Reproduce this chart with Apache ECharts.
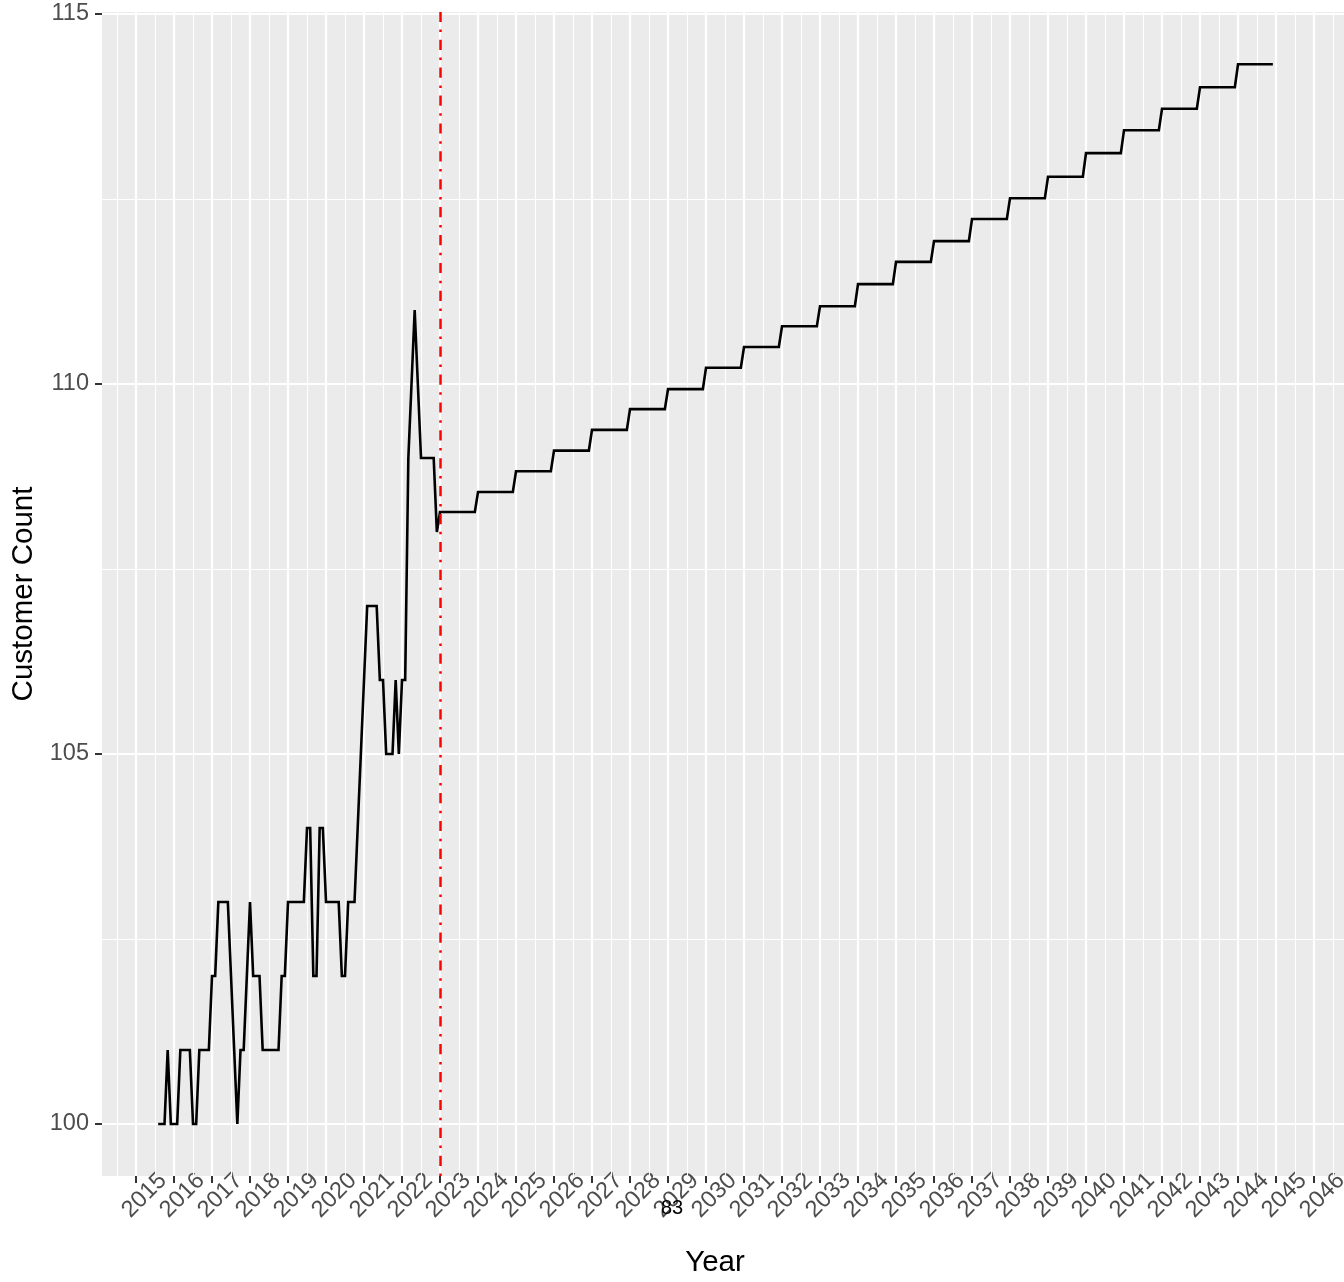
<!DOCTYPE html>
<html><head><meta charset="utf-8">
<script src="https://cdn.jsdelivr.net/npm/echarts@6/dist/echarts.min.js"></script>
<style>html,body{margin:0;padding:0;background:#fff}#c{width:1344px;height:1282px}</style>
</head><body><div id="c"></div>
<script>
// ---- data ----
const historyStart = [2015, 8]; // first month plotted (Aug 2015), monthly data
const historyValues = [
  100,100,100,101,100,100,100,
  101,101,101,101,100,100,
  101,101,101,101,102,102,
  103,103,103,103,102,101,100,
  101,101,102,103,102,102,102,
  101,101,101,101,101,101,102,102,
  103,103,103,103,103,103,104,104,102,102,104,104,
  103,103,103,103,103,102,102,103,103,103,
  104,105,106,107,107,107,107,106,106,105,105,105,106,105,106,106,
  109,110,111,110,109,109,109,109,109,108
];
const forecastYears = [2023,2024,2025,2026,2027,2028,2029,2030,2031,2032,2033,2034,2035,2036,2037,2038,2039,2040,2041,2042,2043,2044];
const forecastLevels = [108.27,108.54,108.82,109.10,109.38,109.66,109.93,110.22,110.50,110.78,111.05,111.35,111.65,111.93,112.23,112.51,112.80,113.12,113.43,113.72,114.01,114.32];
const xTickYears = [2015,2016,2017,2018,2019,2020,2021,2022,2023,2024,2025,2026,2027,2028,2029,2030,2031,2032,2033,2034,2035,2036,2037,2038,2039,2040,2041,2042,2043,2044,2045,2046];
const xMinorBreaks = [2014.5,2015.5,2016.5,2017.5,2018.5,2019.5,2020.5,2021.5,2022.5,2023.5,2024.5,2025.5,2026.5,2027.5,2028.5,2029.5,2030.5,2031.5,2032.5,2033.5,2034.5,2035.5,2036.5,2037.5,2038.5,2039.5,2040.5,2041.5,2042.5,2043.5,2044.5,2045.5,2046.5];
const yTicks = [100,105,110,115];
const yMinorBreaks = [102.5,107.5,112.5];
const forecastStartYear = 2023;
const annotationText = '83';

// ---- build monthly series ----
const lineData = [];
historyValues.forEach((v, i) => {
  const mIdx = (historyStart[1] - 1) + i;
  lineData.push([historyStart[0] + mIdx / 12, v]);
});
forecastYears.forEach((yr, k) => {
  for (let m = 0; m < 12; m++) lineData.push([yr + m / 12, forecastLevels[k]]);
});

const FONT = '"Liberation Sans", Arial, sans-serif';
const chart = echarts.init(document.getElementById('c'), null, {renderer: 'canvas'});

function gridLines(vals, axis, width) {
  return {
    z: 1, silent: true, symbol: 'none', animation: false,
    label: {show: false}, emphasis: {disabled: true},
    lineStyle: {color: '#FFFFFF', width: width, type: 'solid'},
    data: vals.map(v => ({[axis]: v}))
  };
}

chart.setOption({
  animation: false,
  backgroundColor: '#FFFFFF',
  grid: {left: 102, top: 12, width: 1242, height: 1164, show: true, backgroundColor: '#EBEBEB', borderWidth: 0,
    containLabel: false, outerBoundsMode: 'none'},
  xAxis: {
    type: 'value', min: 2014.105, max: 2046.789,
    name: 'Year', nameLocation: 'middle', nameGap: 72,
    nameTextStyle: {fontFamily: FONT, fontSize: 29.5, color: '#000', padding: [0, 16, 0, 0]},
    axisLine: {show: false},
    axisTick: {show: true, length: 7, customValues: xTickYears, lineStyle: {color: '#333333', width: 2}},
    axisLabel: {customValues: xTickYears, rotate: 45, align: 'center', verticalAlign: 'top', margin: 11,
      fontFamily: FONT, fontSize: 23.5, color: '#4D4D4D', formatter: v => String(Math.round(v))},
    splitLine: {show: false}
  },
  yAxis: {
    type: 'value', min: 99.297, max: 115.027,
    name: 'Customer Count', nameLocation: 'middle', nameGap: 54, nameRotate: 90,
    nameTextStyle: {fontFamily: FONT, fontSize: 29.5, color: '#000'},
    axisLine: {show: false},
    axisTick: {show: true, length: 7, customValues: yTicks, lineStyle: {color: '#333333', width: 2}},
    axisLabel: {customValues: yTicks, margin: 13, fontFamily: FONT, fontSize: 23.5, color: '#4D4D4D'},
    splitLine: {show: false}
  },
  graphic: [{
    type: 'text', x: 672, y: 1208, z: 10,
    style: {text: annotationText, font: '20px ' + FONT, fill: '#000000', textAlign: 'center', textVerticalAlign: 'middle', align: 'center', verticalAlign: 'middle'}
  }],
  series: [
    {type: 'line', data: [], z: 1, silent: true, markLine: gridLines(xMinorBreaks, 'xAxis', 1.1)},
    {type: 'line', data: [], z: 1, silent: true, markLine: gridLines(yMinorBreaks, 'yAxis', 1.1)},
    {type: 'line', data: [], z: 1, silent: true, markLine: gridLines(xTickYears, 'xAxis', 2.2)},
    {type: 'line', data: [], z: 1, silent: true, markLine: gridLines(yTicks, 'yAxis', 2.2)},
    {type: 'line', data: lineData, z: 3, showSymbol: false, symbol: 'none', silent: true,
      lineStyle: {color: '#000000', width: 2.6, join: 'miter'}},
    {type: 'line', data: [], z: 6, silent: true, markLine: {
      z: 6, silent: true, symbol: 'none', animation: false, label: {show: false}, emphasis: {disabled: true},
      lineStyle: {color: '#FF0000', width: 2.5, type: [2.5, 7.6, 10.2, 7.6]},
      data: [{xAxis: forecastStartYear}]
    }}
  ]
});
</script></body></html>
